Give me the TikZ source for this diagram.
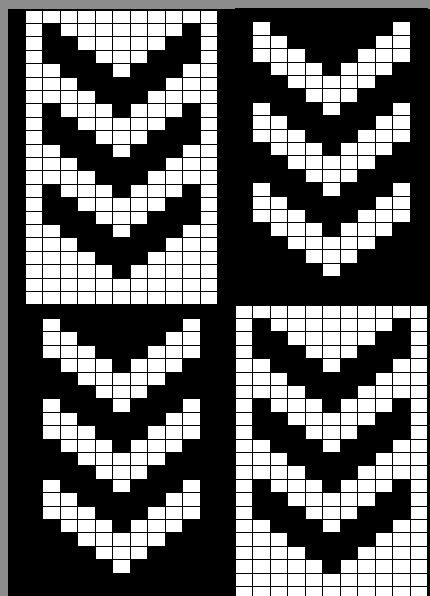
\documentclass[tikz,border=0pt]{standalone}
\usepackage{tikz}
\definecolor{scangray}{RGB}{140,140,140}

\begin{document}
\begin{tikzpicture}[
      x=1pt, y=-1pt,
      cell/.style={draw=black, line width=0.9pt},
      light/.style={cell, fill=white},
      dark/.style={cell, fill=black},
    ]
    \useasboundingbox (0,0) rectangle (430,596);
    \fill[scangray] (0,0) rectangle (430,596);
    \fill[black] (8,9) rectangle (430,596);
    % four charts: left x, top y, 0 = dark chevrons, 1 = light chevrons
    \foreach \xo/\yo/\inv in {25/10/0, 235/8.5/1, 25/305/1, 235/305/0} {
      \foreach \r in {0,...,21} {
        \foreach \c in {0,...,10} {
          \pgfmathtruncatemacro\dd{abs(\c-5)}
          \pgfmathtruncatemacro\ts{\r+\dd}
          \pgfmathtruncatemacro\isv{(\dd<5)*(\ts>4)*(\ts<20)*(mod(\ts+1,6)<3)}
          \pgfmathtruncatemacro\isdark{abs(\isv-\inv)}
          \ifnum\isdark=1
            \path[dark] (\xo+\c*17.5, \yo+\r*13.4) rectangle ++(17.5,13.4);
          \else
            \path[light] (\xo+\c*17.5, \yo+\r*13.4) rectangle ++(17.5,13.4);
          \fi
        }
      }
    }
  \end{tikzpicture}
\end{document}
